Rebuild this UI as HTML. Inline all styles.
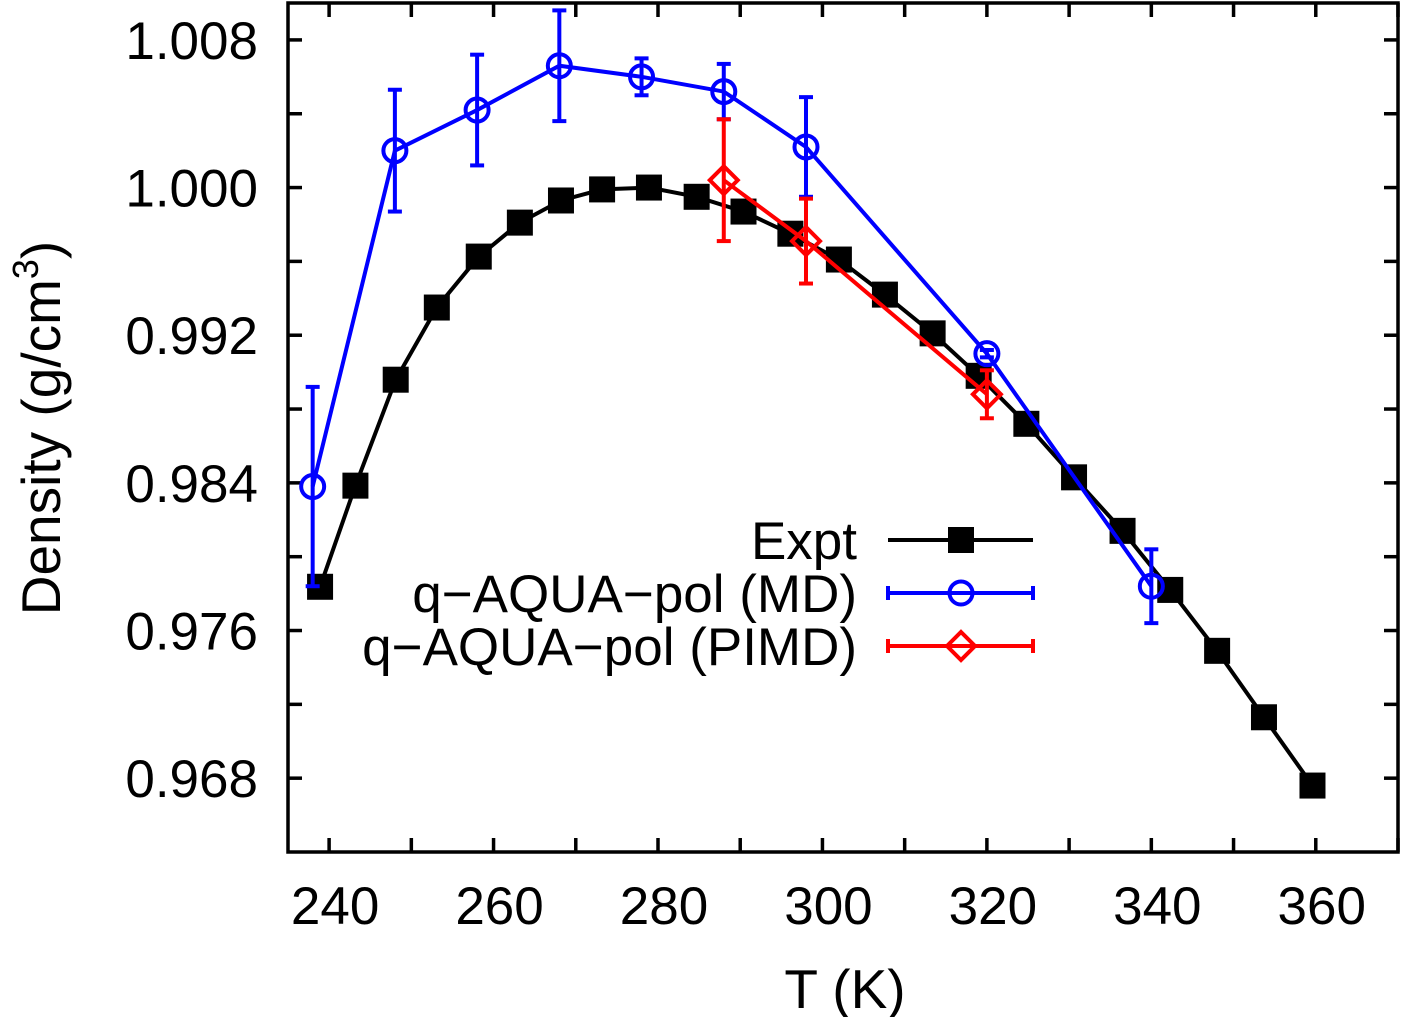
<!DOCTYPE html>
<html><head><meta charset="utf-8"><style>
html,body{margin:0;padding:0;background:#fff;}
svg{display:block;font-family:"Liberation Sans",Arial,sans-serif;}
</style></head><body>
<svg id="chart" width="1402" height="1017" viewBox="0 0 1402 1017"></svg>
<script>
const exptT=[238.9,243.2,248.1,253.1,258.2,263.2,268.2,273.2,278.9,284.7,290.4,296.1,302,307.6,313.4,319,324.8,330.6,336.5,342.3,348,353.7,359.6];
const exptD=[0.97837,0.98385,0.98959,0.9935,0.99626,0.9981,0.9993,0.9999,1.0,0.9995,0.9987,0.9975,0.9961,0.9942,0.9921,0.9898,0.9872,0.9843,0.9814,0.9782,0.9749,0.9713,0.9676];
const mdT=[238,248,258,268,278,288,298,320,340];
const mdD=[0.9838,1.0020,1.0042,1.0066,1.0060,1.0052,1.0022,0.9910,0.9784];
const mdE=[0.0054,0.0033,0.003,0.003,0.001,0.0015,0.0027,0.0002,0.002];
const piT=[288,298,320];
const piD=[1.0004,0.9971,0.9888];
const piE=[0.0033,0.0023,0.0013];
const xTicks=[240,260,280,300,320,340,360];
const yTicks=[0.968,0.976,0.984,0.992,1.000,1.008];

const L=288,R=1398,T=3,B=852,x0=235,x1=370,y0=0.964,y1=1.010;
const X=t=>L+(t-x0)/(x1-x0)*(R-L);
const Y=d=>B-(d-y0)/(y1-y0)*(B-T);
const svg=document.getElementById('chart');
const NS='http://www.w3.org/2000/svg';
function mk(tag,attrs,parent){const e=document.createElementNS(NS,tag);for(const k in attrs)e.setAttribute(k,attrs[k]);(parent||svg).appendChild(e);return e;}

for(let t=240;t<=370;t+=10){
  const l1=mk('line',{x1:X(t),x2:X(t),y1:B,y2:B-14,stroke:'#000','stroke-width':3.5});
  
  
  mk('line',{x1:X(t),x2:X(t),y1:T,y2:T+14,stroke:'#000','stroke-width':3.5});
}
for(let i=0;i<=11;i++){const d=0.968+i*0.004;if(d>y1)break;
  const l=mk('line',{x1:L,x2:L+14,y1:Y(d),y2:Y(d),stroke:'#000','stroke-width':3.5});
  
  
  mk('line',{x1:R,x2:R-14,y1:Y(d),y2:Y(d),stroke:'#000','stroke-width':3.5});
}
xTicks.forEach(t=>{const e=mk('text',{x:X(t)+6,y:924,'font-size':53,'text-anchor':'middle'});e.textContent=t;
  
  });
yTicks.forEach(d=>{const e=mk('text',{x:258,y:Y(d)+19,'font-size':53,'text-anchor':'end'});e.textContent=d.toFixed(3);
  
  });
const fr=mk('rect',{x:L,y:T,width:R-L,height:B-T,fill:'none',stroke:'#000','stroke-width':3.5});



const xt=mk('text',{x:845,y:1008,'font-size':55,'text-anchor':'middle'});xt.textContent='T (K)';


const yt=mk('text',{x:0,y:0,'font-size':55,'text-anchor':'middle',transform:'translate(60,428) rotate(-90)'});
yt.innerHTML='Density (g/cm<tspan dy="-22" font-size="36">3</tspan><tspan dy="22">)</tspan>';



function line(ts,ds,col,name){const p=mk('polyline',{points:ts.map((t,i)=>X(t)+','+Y(ds[i])).join(' '),fill:'none',stroke:col,'stroke-width':4});
  
  }
function err(t,d,e,col){const x=X(t),a=Y(d+e),b=Y(d-e);
  const g=mk('g',{stroke:col,'stroke-width':4});
  
  
  mk('line',{x1:x,x2:x,y1:a,y2:b},g);mk('line',{x1:x-7,x2:x+7,y1:a,y2:a},g);mk('line',{x1:x-7,x2:x+7,y1:b,y2:b},g);}
function sq(x,y){const r=mk('rect',{x:x-13,y:y-13,width:26,height:26,fill:'#000'});
  
  }
function circ(x,y){const c=mk('circle',{cx:x,cy:y,r:11.5,fill:'none',stroke:'#0000ff','stroke-width':4});
  
  }
function dia(x,y){const p=mk('polygon',{points:`${x},${y-14} ${x+14},${y} ${x},${y+14} ${x-14},${y}`,fill:'none',stroke:'#ff0000','stroke-width':4});
  
  }

line(exptT,exptD,'#000','expt-line');
exptT.forEach((t,i)=>sq(X(t),Y(exptD[i])));
line(mdT,mdD,'#0000ff','md-line');
mdT.forEach((t,i)=>{err(t,mdD[i],mdE[i],'#0000ff');circ(X(t),Y(mdD[i]));});
line(piT,piD,'#ff0000','pimd-line');
piT.forEach((t,i)=>{err(t,piD[i],piE[i],'#ff0000');dia(X(t),Y(piD[i]));});

const lg=mk('g',{});


[['Expt','#000',sq,false],['q\u2212AQUA\u2212pol (MD)','#0000ff',circ,true],['q\u2212AQUA\u2212pol (PIMD)','#ff0000',dia,true]].forEach((r,i)=>{
  const y=540+i*53;
  const tx=mk('text',{x:857,y:y+19,'font-size':53,'text-anchor':'end'},lg);tx.textContent=r[0];
  
  
  mk('line',{x1:888,x2:1033,y1:y,y2:y,stroke:r[1],'stroke-width':4},lg);
  if(r[3]){mk('line',{x1:888,x2:888,y1:y-7,y2:y+7,stroke:r[1],'stroke-width':4},lg);mk('line',{x1:1033,x2:1033,y1:y-7,y2:y+7,stroke:r[1],'stroke-width':4},lg);}
  r[2](961,y);
});
</script>
</body></html>
